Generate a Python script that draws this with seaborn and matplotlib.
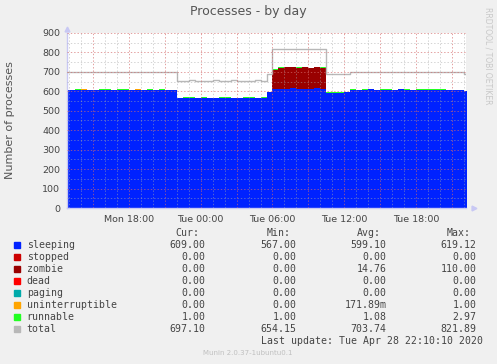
import numpy as np
import matplotlib
matplotlib.use("Agg")
import matplotlib.pyplot as plt
import seaborn as sns

# half-hour samples, hours since Mon 00:00 (bin centres)
hours = 12.75 + 0.5 * np.arange(68)

sleeping = [607,
            607, 608, 609, 607, 608, 609, 608, 607, 609, 608, 607, 609, 608, 608, 607, 609, 608, 607,
            567, 568, 567, 567, 568, 567, 567, 567, 568, 567, 567, 568, 567, 567, 568,
            597,
            612, 614, 613, 615, 612, 614, 613, 615, 612,
            594, 593, 594, 595,
            609, 608, 609, 610, 608, 609, 609, 608, 610, 609, 608, 609, 609, 608, 609, 609, 608, 607, 608, 603]
stopped = [0] * 68
zombie = [0] * 35 + [100, 108, 110, 108, 109, 110, 108, 109, 110] + [0] * 24
dead = [0] * 68
paging = [0] * 68
uninterruptible = [0, 0, 0, 1, 0, 0, 0, 0, 1, 0, 0, 0, 1, 0, 0, 0, 0, 0, 0,
                   0, 0, 0, 0, 0, 0, 0, 0, 0, 0, 0, 0, 0, 0, 0,
                   0,
                   0, 0, 0, 0, 1, 0, 0, 0, 0,
                   0, 0, 0, 0,
                   0, 0, 0, 0, 0, 0, 0, 0, 0, 0, 0, 0, 0, 0, 0, 0, 0, 0, 0, 0]
runnable = [1, 1, 2, 1, 1, 1, 1, 3, 1, 1, 2, 1, 1, 1, 3, 1, 1, 1, 1,
            1, 1, 2, 1, 1, 1, 1, 2, 1, 1, 1, 1, 2, 1, 1,
            1,
            1, 2, 1, 1, 1, 3, 1, 1, 1,
            2, 3, 2, 2,
            1, 1, 1, 2, 1, 1, 1, 1, 2, 1, 1, 1, 1, 2, 1, 1, 1, 1, 1, 1]
total = [698,
         698, 699, 697, 698, 700, 699, 698, 697, 699, 698, 699, 698, 697, 698, 699, 698, 697, 698,
         655, 654, 656, 655, 655, 654, 656, 655, 655, 656, 654, 655, 655, 656, 655,
         689,
         816, 818, 819, 818, 820, 818, 817, 819, 818,
         688, 689, 688, 690,
         698, 699, 698, 699, 700, 698, 699, 698, 699, 698, 699, 700, 698, 699, 698, 699, 698, 697, 698, 690]

names = ["sleeping", "stopped", "zombie", "dead", "paging", "uninterruptible", "runnable"]
colors = ["#0022ff", "#cc0000", "#990000", "#ff0000", "#00aaaa", "#ffa500", "#22ff22"]
total_color = "#b8b8b8"

cur = ["609.00", "0.00", "0.00", "0.00", "0.00", "0.00", "1.00", "697.10"]
mins = ["567.00", "0.00", "0.00", "0.00", "0.00", "0.00", "1.00", "654.15"]
avgs = ["599.10", "0.00", "14.76", "0.00", "0.00", "171.89m", "1.08", "703.74"]
maxs = ["619.12", "0.00", "110.00", "0.00", "0.00", "1.00", "2.97", "821.89"]

xticks = [18, 24, 30, 36, 42]
xticklabels = ["Mon 18:00", "Tue 00:00", "Tue 06:00", "Tue 12:00", "Tue 18:00"]

sns.set_style("white")
plt.rcParams["font.family"] = ["DejaVu Sans"]
plt.rcParams["lines.scale_dashes"] = False

W, H = 497, 364
fig = plt.figure(figsize=(W / 100, H / 100), dpi=100, facecolor="#f0f0f0")
x0, x1, ytop, ybot = 67, 466, 33, 208
ax = fig.add_axes([x0 / W, 1 - ybot / H, (x1 - x0) / W, (ybot - ytop) / H])
ax.set_facecolor("white")

series = [sleeping, stopped, zombie, dead, paging, uninterruptible, runnable]
base = np.zeros(len(hours))
for vals, c in zip(series, colors):
    top = base + np.array(vals, dtype=float)
    ax.fill_between(hours, base, top, step="mid", color=c, lw=0, zorder=2)
    base = top

sns.lineplot(x=hours, y=total, ax=ax, color=total_color, lw=1, drawstyle="steps-mid", zorder=3)

ax.set_xlim(12.83, 46.17)
ax.set_ylim(0, 900)

# grid: gray every hour / 50, red every 3 hours / 100
red, grey = "#e09a9a", "#cfcfcf"
dots = (0, (1.0, 1.4))
for h in range(13, 47):
    major = h % 3 == 0
    ax.axvline(h, color="#d46a6a" if major else "#a8a8a8", alpha=0.65 if major else 0.5,
               lw=0.7, ls=dots, zorder=4)
for v in range(50, 901, 50):
    major = v % 100 == 0
    ax.axhline(v, color="#d46a6a" if major else "#a8a8a8", alpha=0.65 if major else 0.5,
               lw=0.7, ls=dots, zorder=4)

ax.set_yticks(range(0, 901, 100))
ax.set_yticks(range(50, 900, 100), minor=True)
ax.set_xticks(xticks)
ax.set_xticklabels(xticklabels)
ax.set_xticks([h for h in range(13, 47) if h not in xticks], minor=True)
ax.tick_params(axis="both", which="major", labelsize=6.8, labelcolor="#444444", color=red,
               length=2, width=0.7, pad=3, direction="out")
ax.tick_params(axis="both", which="minor", color=grey, length=2, width=0.7, direction="out")
for s in ax.spines.values():
    s.set_visible(False)
for side in ["left", "bottom"]:
    ax.spines[side].set_visible(True)
    ax.spines[side].set_color("#c8c8f4")
    ax.spines[side].set_linewidth(1)
ax.plot([0], [1.02], marker="^", ms=3.5, color="#c8c8f4", transform=ax.transAxes, clip_on=False)
ax.plot([1.02], [0], marker=">", ms=3.5, color="#c8c8f4", transform=ax.transAxes, clip_on=False)
ax.set_xlabel("")
ax.set_ylabel("")

fig.text(248 / W, 1 - 12 / H, "Processes - by day", ha="center", va="center", fontsize=9, color="#555555")
fig.text(10 / W, 1 - 120 / H, "Number of processes", ha="center", va="center", rotation=90, fontsize=8, color="#555555")
fig.text(488 / W, 1 - 56 / H, "RRDTOOL / TOBI OETIKER", ha="center", va="center", rotation=-90, fontsize=5.5, color="#c8c8c8")

mono = dict(family="DejaVu Sans Mono", fontsize=7.1, color="#444444", va="center")
cols = [205.7, 296.7, 386.7, 476.7]
headers = ["Cur:", "Min:", "Avg:", "Max:"]
for cx, hd in zip(cols, headers):
    fig.text((cx - 6) / W, 1 - 233 / H, hd, ha="right", **mono)

labels = names + ["total"]
lcolors = colors + [total_color]
for i, (nm, c) in enumerate(zip(labels, lcolors)):
    y = 244.5 + 12.05 * i
    fig.patches.append(plt.Rectangle((14 / W, 1 - (y + 3) / H), 6 / W, 6 / H, transform=fig.transFigure, color=c))
    fig.text(26.7 / W, 1 - y / H, nm, ha="left", **mono)
    for cx, v in zip(cols, [cur[i], mins[i], avgs[i], maxs[i]]):
        fig.text(cx / W, 1 - y / H, v, ha="right", **mono)

fig.text(482.7 / W, 1 - 340.7 / H, "Last update: Tue Apr 28 22:10:10 2020", ha="right", **mono)
fig.text(248 / W, 1 - 353.3 / H, "Munin 2.0.37-1ubuntu0.1", ha="center", va="center", fontsize=5, color="#c0c0c0")

fig.savefig("out.png", dpi=100, facecolor=fig.get_facecolor())
